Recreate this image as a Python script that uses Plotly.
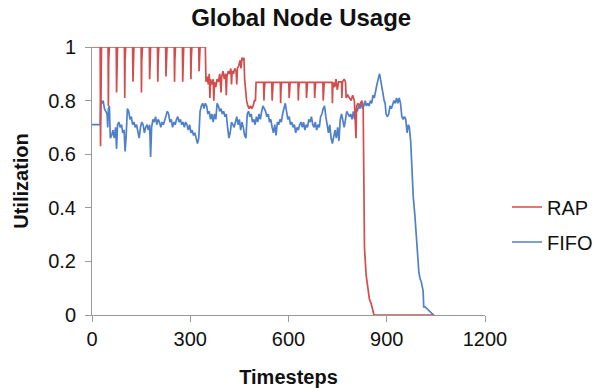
import plotly.graph_objects as go

# RAP utilization: (timestep, utilization) samples
rap_t = [0, 25, 26, 27, 29, 49, 50, 51, 53, 74, 75, 76, 78, 99, 100, 101, 103,
         124, 125, 126, 128, 150, 151, 152, 154, 175, 176, 177, 179, 200, 201, 202, 204,
         225, 226, 227, 229, 251, 252, 253, 255, 276, 277, 278, 280, 301, 302, 303, 305,
         326, 327, 328, 330, 346,
         348, 352, 355, 358, 360, 362, 366, 370, 372, 374, 378, 382, 386, 390, 394, 396,
         400, 404, 408, 410, 412, 416, 420, 424, 426, 428, 432, 436, 440, 442, 444, 448,
         452, 455, 458, 462, 464, 466, 469, 472, 476, 480, 484, 488, 492, 496, 499, 501,
         524, 525, 526, 528, 549, 550, 551, 553, 575, 576, 577, 579, 601, 602, 603, 605,
         629, 630, 631, 633, 654, 655, 656, 658, 679, 680, 681, 683, 705, 706, 707, 709,
         733, 734, 735, 737,
         741, 745, 749, 753, 758, 762, 763, 765, 770, 774, 776, 781, 786, 791, 796, 801,
         804, 806, 808, 812, 816, 820, 824, 828, 832, 837, 842, 847, 853, 858, 861, 1046]
rap_u = [1, 1, 0.63, 0.95, 1, 1, 0.78, 0.95, 1, 1, 0.83, 0.95, 1, 1, 0.81, 0.95, 1,
         1, 0.87, 0.95, 1, 1, 0.83, 0.95, 1, 1, 0.88, 0.95, 1, 1, 0.87, 0.95, 1,
         1, 0.89, 0.95, 1, 1, 0.87, 0.95, 1, 1, 0.87, 0.95, 1, 1, 0.88, 0.95, 1,
         1, 0.91, 0.96, 1, 1,
         0.87, 0.89, 0.86, 0.90, 0.81, 0.88, 0.86, 0.88, 0.80, 0.87, 0.85, 0.88, 0.87, 0.90, 0.83, 0.89,
         0.91, 0.88, 0.90, 0.82, 0.89, 0.91, 0.90, 0.92, 0.86, 0.91, 0.90, 0.92, 0.91, 0.86, 0.92, 0.93,
         0.95, 0.92, 0.96, 0.95, 0.96, 0.88, 0.82, 0.80, 0.78, 0.77, 0.78, 0.77, 0.78, 0.80, 0.80, 0.868,
         0.868, 0.80, 0.84, 0.868, 0.868, 0.80, 0.84, 0.868, 0.868, 0.79, 0.84, 0.868, 0.868, 0.81, 0.84, 0.868,
         0.868, 0.80, 0.84, 0.868, 0.868, 0.81, 0.84, 0.868, 0.868, 0.81, 0.84, 0.868, 0.868, 0.80, 0.84, 0.868,
         0.868, 0.79, 0.84, 0.868,
         0.85, 0.88, 0.84, 0.87, 0.87, 0.87, 0.81, 0.87, 0.88, 0.87, 0.81, 0.82, 0.81, 0.80, 0.82, 0.80,
         0.72, 0.66, 0.78, 0.79, 0.78, 0.79, 0.80, 0.78, 0.25, 0.15, 0.10, 0.06, 0.04, 0.02, 0, 0]

# FIFO utilization: (timestep, utilization) samples
fifo_t = [0, 25, 27, 30, 34, 38, 42, 46, 48, 50, 53, 56, 60, 64, 68, 72, 75, 78, 82, 86,
          90, 94, 98, 101, 104, 108, 112, 116, 120, 124, 128, 132, 136, 140, 144, 148, 152, 156,
          160, 164, 168, 172, 176, 179, 182, 186, 190, 194, 198, 202, 206, 210, 214, 218, 222,
          226, 230, 234, 238, 242, 246, 250, 254, 258, 262, 266, 270, 274, 278, 282, 286, 290,
          294, 298, 302, 306, 310, 314, 318, 322, 326, 330, 334, 338, 342, 346, 350, 354, 358,
          362, 366, 370, 374, 378, 382, 386, 390, 394, 398, 402, 406, 410, 414, 418, 422, 426,
          430, 434, 438, 442, 446, 450, 454, 458, 462, 466, 470, 474, 478, 482, 486, 490, 494,
          498, 502, 506, 510, 514, 518, 522, 526, 530, 534, 538, 542, 546, 550, 554, 558, 562,
          566, 570, 574, 578, 582, 586, 590, 594, 598, 602, 606, 610, 614, 618, 622, 626, 630,
          634, 638, 642, 646, 650, 654, 658, 662, 666, 670, 674, 678, 682, 686, 690, 694, 698,
          702, 706, 710, 714, 718, 722, 726, 730, 734, 738, 742, 746, 750, 754, 758, 762, 766,
          770, 774, 778, 782, 786, 790, 794, 798, 802, 806, 810, 814, 818, 822, 826, 830, 834,
          838, 842, 846, 850, 854, 858, 862, 866, 870, 874, 878, 881, 884, 888, 892, 895, 898,
          902, 906, 910, 914, 918, 922, 926, 930, 934, 938, 942, 946, 950, 954, 958, 962, 966,
          969, 973, 977, 981, 986, 991, 994, 998, 1001, 1006, 1011, 1013, 1017, 1042, 1043, 1046]
fifo_u = [0.71, 0.71, 0.80, 0.79, 0.80, 0.77, 0.76, 0.75, 0.70, 0.77, 0.78, 0.66, 0.67, 0.69, 0.66,
          0.70, 0.62, 0.71, 0.72, 0.70, 0.71, 0.68, 0.69, 0.61, 0.66, 0.77, 0.76, 0.73, 0.74, 0.71,
          0.72, 0.70, 0.71, 0.69, 0.66, 0.70, 0.72, 0.71, 0.68, 0.70, 0.71, 0.69, 0.71, 0.59, 0.70,
          0.73, 0.72, 0.74, 0.71, 0.73, 0.72, 0.70, 0.72, 0.71, 0.73, 0.74, 0.76, 0.75, 0.72, 0.73,
          0.70, 0.72, 0.71, 0.73, 0.74, 0.72, 0.73, 0.71, 0.72, 0.70, 0.72, 0.71, 0.69, 0.71, 0.68,
          0.69, 0.67, 0.68, 0.66, 0.64, 0.66, 0.76, 0.78, 0.79, 0.77, 0.79, 0.78, 0.75, 0.76, 0.73,
          0.75, 0.72, 0.75, 0.73, 0.79, 0.78, 0.76, 0.77, 0.75, 0.76, 0.74, 0.75, 0.70, 0.66, 0.68,
          0.72, 0.71, 0.70, 0.72, 0.74, 0.71, 0.73, 0.69, 0.72, 0.70, 0.67, 0.66, 0.75, 0.76, 0.74,
          0.75, 0.72, 0.73, 0.71, 0.74, 0.72, 0.75, 0.73, 0.76, 0.78, 0.77, 0.76, 0.74, 0.75, 0.72,
          0.73, 0.70, 0.68, 0.71, 0.67, 0.72, 0.71, 0.73, 0.72, 0.75, 0.77, 0.79, 0.76, 0.73, 0.74,
          0.71, 0.72, 0.70, 0.71, 0.68, 0.70, 0.69, 0.71, 0.72, 0.70, 0.72, 0.69, 0.71, 0.70, 0.73,
          0.72, 0.74, 0.71, 0.70, 0.72, 0.69, 0.71, 0.70, 0.74, 0.75, 0.77, 0.78, 0.74, 0.70, 0.68,
          0.71, 0.66, 0.64, 0.66, 0.69, 0.66, 0.70, 0.65, 0.73, 0.75, 0.72, 0.70, 0.73, 0.76, 0.75,
          0.74, 0.75, 0.73, 0.76, 0.73, 0.77, 0.76, 0.78, 0.77, 0.79, 0.77, 0.78, 0.80, 0.78, 0.79,
          0.78, 0.80, 0.79, 0.82, 0.81, 0.84, 0.86, 0.88, 0.90, 0.88, 0.85, 0.83, 0.80, 0.79, 0.75,
          0.74, 0.75, 0.78, 0.77, 0.79, 0.80, 0.79, 0.81, 0.79, 0.81, 0.79, 0.74, 0.73, 0.74, 0.73,
          0.68, 0.71, 0.70, 0.65, 0.53, 0.44, 0.37, 0.29, 0.21, 0.16, 0.14, 0.12, 0.09, 0.03, 0.03,
          0, 0]

x_ticks = [0, 300, 600, 900, 1200]
y_ticks = [0, 0.2, 0.4, 0.6, 0.8, 1]
y_tick_text = ["0", "0.2", "0.4", "0.6", "0.8", "1"]

RED = "#d44c4c"
BLUE = "#4f80cc"
FONT = "Liberation Sans, Arial, sans-serif"

fig = go.Figure()
fig.add_trace(go.Scatter(x=fifo_t, y=fifo_u, mode="lines", name="FIFO", showlegend=True,
                         line=dict(color=BLUE, width=1.7), legend="legend2"))
fig.add_trace(go.Scatter(x=rap_t, y=rap_u, mode="lines", name="RAP", showlegend=True,
                         line=dict(color=RED, width=1.7), legend="legend"))

axis_common = dict(showgrid=False, zeroline=False, showline=True, linecolor="#9a9a9a",
                   linewidth=1, ticks="outside", tickcolor="#9a9a9a", ticklen=6,
                   automargin=False,
                   tickfont=dict(family=FONT, size=20, color="#111"))

legend_common = dict(xref="container", yref="container", x=507 / 600,
                     xanchor="left", yanchor="middle",
                     font=dict(family=FONT, size=20, color="#111"),
                     bgcolor="rgba(0,0,0,0)")

fig.update_layout(
    width=600, height=388,
    margin=dict(l=92, r=115, t=47, b=73, autoexpand=False),
    paper_bgcolor="white", plot_bgcolor="white",
    showlegend=True,
    title=dict(text="<b>Global Node Usage</b>", x=0.502, xanchor="center",
               y=1 - 18 / 388, yanchor="middle",
               font=dict(family=FONT, size=24, color="#111")),
    xaxis=dict(range=[0, 1200], tickvals=x_ticks, **axis_common,
               title=dict(text="<b>Timesteps</b>", font=dict(family=FONT, size=20, color="#111"),
                          standoff=20)),
    yaxis=dict(range=[0, 1], tickvals=y_ticks, ticktext=y_tick_text, **axis_common,
               ticklabelstandoff=5,
               title=dict(text="<b>Utilization</b>", font=dict(family=FONT, size=20, color="#111"),
                          standoff=14)),
    legend=dict(y=(388 - 207) / 388, **legend_common),
    legend2=dict(y=(388 - 242) / 388, **legend_common),
)

fig.write_html("out.html")
